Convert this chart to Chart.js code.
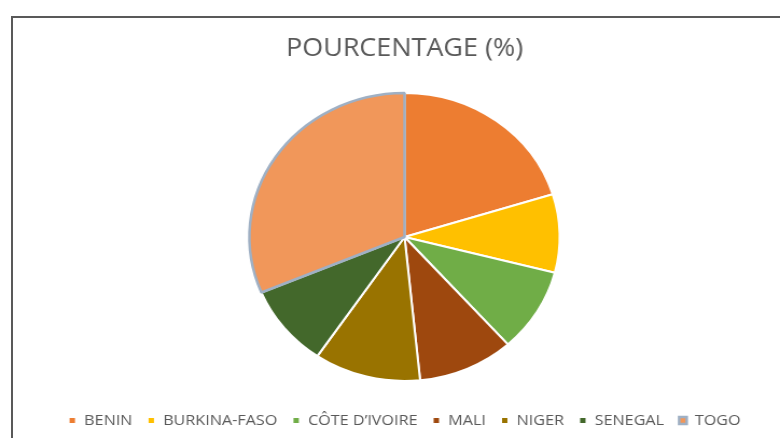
<!DOCTYPE html>
<html>
<head>
<meta charset="utf-8">
<script src="https://cdn.jsdelivr.net/npm/chart.js@4.4.1/dist/chart.umd.min.js"></script>
<style>
  html, body { margin: 0; padding: 0; background: #fff; overflow: hidden; }
  #frame { position: absolute; left: 11px; top: 16px; width: 780px; height: 430px; border-top: 2px solid #595959; border-left: 2px solid #595959; }
  #pie { position: absolute; left: 0; top: 0; }
</style>
</head>
<body>
<div id="frame"></div>
<canvas id="pie" width="724" height="438" style="width:780px;height:438px"></canvas>
<script>
const countries = ['BENIN', 'BURKINA-FASO', 'CÔTE D\u2019IVOIRE', 'MALI', 'NIGER', 'SENEGAL', 'TOGO'];
const percentages = [20.2, 8.8, 9.4, 10.0, 11.1, 9.2, 31.3];
const sliceColors = ['#ED7D31', '#FFC000', '#70AD47', '#9E480E', '#997300', '#43682B', '#F1975A'];
const sliceBorders = ['#ffffff', '#ffffff', '#ffffff', '#ffffff', '#ffffff', '#ffffff', '#9fb0c4'];

document.addEventListener('DOMContentLoaded', function () {
  const canvas = document.getElementById('pie');
  const ctx = canvas.getContext('2d');

  // canvas is drawn at 724 wide and stretched to 780, like the source picture
  new Chart(ctx, {
    type: 'pie',
    data: {
      labels: countries,
      datasets: [{
        data: percentages,
        backgroundColor: sliceColors,
        borderColor: sliceBorders,
        borderWidth: [2, 2, 2, 2, 2, 2, 2.5],
        radius: 144
      }]
    },
    options: {
      responsive: false,
      animation: false,
      layout: { padding: { left: 27, right: 0, top: 0, bottom: 0 } },
      plugins: {
        title: {
          display: true,
          text: 'POURCENTAGE (%)',
          color: '#595959',
          font: { family: 'Open Sans', size: 25, weight: 'normal' },
          padding: { top: 34, bottom: 11 }
        },
        legend: {
          position: 'bottom',
          labels: {
            color: '#595959',
            font: { family: 'Open Sans', size: 15 },
            boxWidth: 7,
            boxHeight: 7,
            padding: 14
          }
        },
        tooltip: { enabled: false }
      }
    }
  });
});
</script>
</body>
</html>
